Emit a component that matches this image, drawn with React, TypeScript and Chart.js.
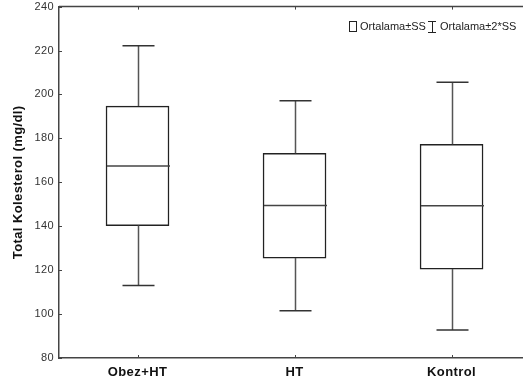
import React, { useEffect, useRef } from 'react';
import { Chart, registerables } from 'chart.js';

Chart.register(...registerables);

const categories = ['Obez+HT', 'HT', 'Kontrol'];
const boxHigh = [194.7, 173.2, 177.3];
const boxLow = [140.3, 125.5, 120.5];
const centerValues = [167.4, 149.4, 149.3];
const whiskerHigh = [222.2, 197.1, 205.5];
const whiskerLow = [113.0, 101.5, 92.7];
const yTickValues = [80, 100, 120, 140, 160, 180, 200, 220, 240];
const legendLabels = ['Ortalama\u00B1SS', 'Ortalama\u00B12*SS'];

const FONT = "'Liberation Sans', Arial, sans-serif";
const SHIFT = 5;

const spacing = {
  id: 'spacing',
  beforeDraw(chart: any) {
    chart.ctx.letterSpacing = '0.4px';
  },
};

const boxExtras = {
  id: 'boxExtras',
  afterDatasetsDraw(chart: any) {
    const { ctx, scales } = chart;
    const x = scales.x;
    const y = scales.y;
    const meta = chart.getDatasetMeta(0);
    ctx.save();
    categories.forEach((_, i) => {
      const cx = Math.round(x.getPixelForValue(i + 1)) + 0.5;
      const bar = meta.data[i];
      const half = bar.width / 2;
      const yWH = y.getPixelForValue(whiskerHigh[i]);
      const yWL = y.getPixelForValue(whiskerLow[i]);
      const yBH = y.getPixelForValue(boxHigh[i]);
      const yBL = y.getPixelForValue(boxLow[i]);
      const yM = y.getPixelForValue(centerValues[i]);
      ctx.strokeStyle = '#555';
      ctx.lineWidth = 1.5;
      ctx.beginPath();
      ctx.moveTo(cx, yWH);
      ctx.lineTo(cx, yBH);
      ctx.moveTo(cx, yBL);
      ctx.lineTo(cx, yWL);
      ctx.stroke();
      ctx.strokeStyle = '#333';
      ctx.beginPath();
      ctx.moveTo(cx - 16, yWH);
      ctx.lineTo(cx + 16, yWH);
      ctx.moveTo(cx - 16, yWL);
      ctx.lineTo(cx + 16, yWL);
      ctx.stroke();
      ctx.strokeStyle = '#444';
      ctx.beginPath();
      ctx.moveTo(cx - half, yM);
      ctx.lineTo(cx + half, yM);
      ctx.stroke();
    });
    ctx.restore();
  },
  afterDraw(chart: any) {
    const { ctx, chartArea, scales } = chart;
    const x = scales.x;
    const y = scales.y;
    ctx.save();
    ctx.letterSpacing = '0px';
    ctx.strokeStyle = '#444';
    ctx.lineWidth = 1.5;
    ctx.beginPath();
    ctx.moveTo(chartArea.left, chartArea.top);
    ctx.lineTo(chartArea.right, chartArea.top);
    ctx.stroke();
    ctx.lineWidth = 1;
    ctx.beginPath();
    yTickValues.forEach((v) => {
      const py = Math.round(y.getPixelForValue(v)) + 0.5;
      ctx.moveTo(chartArea.left, py);
      ctx.lineTo(chartArea.left + 3, py);
    });
    categories.forEach((_, i) => {
      const px = Math.round(x.getPixelForValue(i + 1)) + 0.5;
      ctx.moveTo(px, chartArea.bottom);
      ctx.lineTo(px, chartArea.bottom - 3);
      ctx.moveTo(px, chartArea.top);
      ctx.lineTo(px, chartArea.top + 3);
    });
    ctx.stroke();
    ctx.font = `11px ${FONT}`;
    ctx.fillStyle = '#222';
    ctx.textBaseline = 'middle';
    const ly = 27 + SHIFT;
    ctx.strokeStyle = '#222';
    ctx.lineWidth = 1;
    ctx.strokeRect(349.5, 21.5 + SHIFT, 7, 10);
    ctx.fillText(legendLabels[0], 360, ly);
    ctx.beginPath();
    ctx.moveTo(428, 21.5 + SHIFT);
    ctx.lineTo(436, 21.5 + SHIFT);
    ctx.moveTo(432.5, 21.5 + SHIFT);
    ctx.lineTo(432.5, 32.5 + SHIFT);
    ctx.moveTo(428, 32.5 + SHIFT);
    ctx.lineTo(436, 32.5 + SHIFT);
    ctx.stroke();
    ctx.fillText(legendLabels[1], 440, ly);
    ctx.restore();
  },
};

export default function App() {
  const ref = useRef<HTMLCanvasElement | null>(null);
  useEffect(() => {
    if (!ref.current) return;
    const chart = new Chart(ref.current, {
      type: 'bar',
      data: {
        datasets: [
          {
            data: categories.map((_, i) => ({ x: i + 1, y: [boxLow[i], boxHigh[i]] })) as any,
            backgroundColor: '#ffffff',
            borderColor: '#222',
            borderWidth: 1.5,
            borderSkipped: false,
            barThickness: 63,
          },
        ],
      },
      options: {
        animation: false,
        responsive: false,
        maintainAspectRatio: false,
        layout: { padding: { top: 0, right: 0, left: 0, bottom: 0 } },
        plugins: { legend: { display: false }, tooltip: { enabled: false } },
        scales: {
          x: {
            type: 'linear',
            offset: false,
            min: 0.5,
            max: 3.455,
            grid: { display: false, drawTicks: false, offset: false },
            border: { display: true, color: '#444', width: 1.5 },
            afterBuildTicks: (scale: any) => {
              scale.ticks = categories.map((_, i) => ({ value: i + 1 }));
            },
            afterFit: (scale: any) => {
              scale.height = 32;
            },
            ticks: {
              padding: 7,
              color: '#111',
              font: { family: FONT, size: 13, weight: 'bold' },
              callback: (v: any) => categories[Number(v) - 1] ?? '',
            },
          },
          y: {
            min: 80,
            max: 240,
            grid: { display: false, drawTicks: false },
            border: { display: true, color: '#444', width: 1.5 },
            afterFit: (scale: any) => {
              scale.width = 59;
            },
            afterBuildTicks: (scale: any) => {
              scale.ticks = yTickValues.map((v) => ({ value: v }));
            },
            ticks: {
              padding: 5,
              color: '#333',
              font: { family: FONT, size: 11 },
            },
            title: {
              display: true,
              text: 'Total Kolesterol (mg/dl)',
              color: '#111',
              font: { family: FONT, size: 13, weight: 'bold' },
              padding: { top: 11, bottom: 0 },
            },
          },
        },
      },
      plugins: [spacing, boxExtras],
    });
    return () => chart.destroy();
  }, []);
  return (
    <div style={{ position: 'absolute', left: 0, top: 0, width: 523, height: 390, overflow: 'hidden', background: '#fff' }}>
      <canvas
        ref={ref}
        width={523}
        height={390 + SHIFT}
        style={{ display: 'block', position: 'absolute', left: 0, top: -SHIFT }}
      />
    </div>
  );
}
